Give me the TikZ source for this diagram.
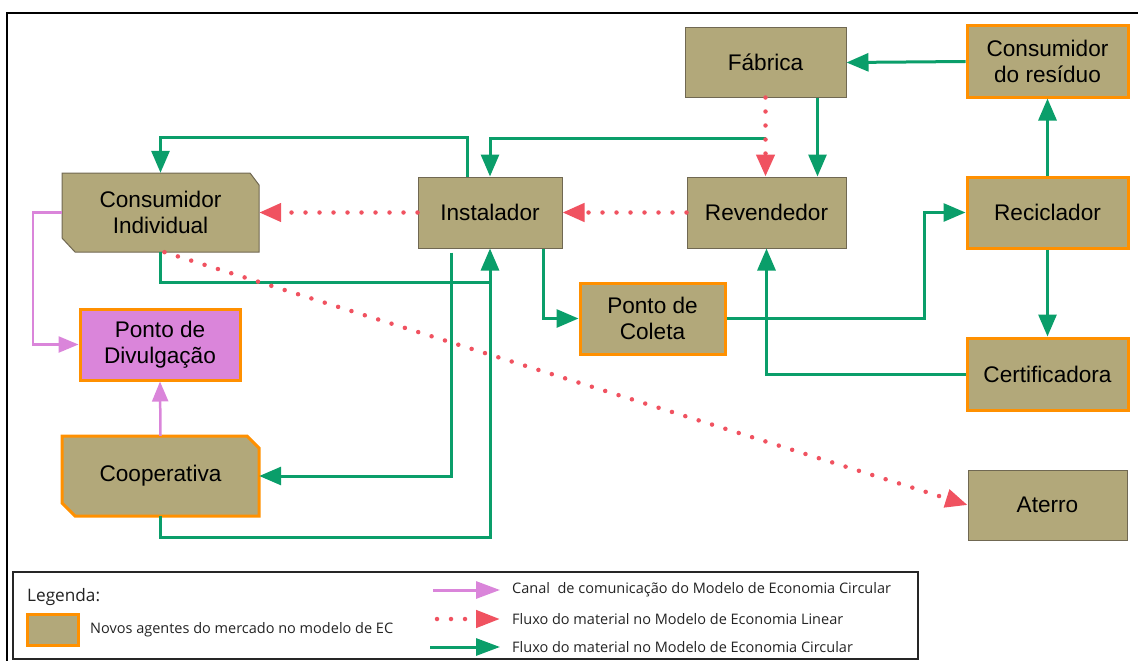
\documentclass[tikz,border=0pt]{standalone}
\usepackage{fontspec}
\setmainfont{Liberation Sans}
\newfontfamily\legendfont{Open Sans}
\usetikzlibrary{arrows.meta}
\definecolor{boxtan}{RGB}{178,168,122}
\definecolor{tanline}{RGB}{112,104,82}
\definecolor{orng}{RGB}{255,144,0}
\definecolor{pnk}{RGB}{218,133,218}
\definecolor{redd}{RGB}{240,82,96}
\definecolor{grn}{RGB}{10,158,106}
\definecolor{legtext}{RGB}{35,35,35}
\begin{document}
\begin{tikzpicture}[x=1pt,y=-1pt,
  agent/.style={draw=tanline, line width=1pt, fill=boxtan, font=\fontsize{22.6}{26.5}\selectfont, align=center, inner sep=0pt},
  newagent/.style={agent, draw=orng, line width=3pt},
  textonly/.style={draw=none, fill=none, font=\fontsize{22.6}{26.5}\selectfont, align=center, inner sep=0pt},
  gline/.style={draw=grn, line width=3pt, -{Triangle[length=22pt,width=18pt]}},
  pline/.style={draw=pnk, line width=2.5pt, -{Triangle[length=20pt,width=16pt]}},
  rline/.style={draw=redd, line width=4.5pt, line cap=round, dash pattern=on 0pt off 14pt, -{Triangle[length=22pt,width=18pt]}},
  legtxt/.style={font=\legendfont\fontsize{14.5}{17}\selectfont, text=legtext, anchor=west, inner sep=0pt}
]
\useasboundingbox (0,0) rectangle (1138,661);
% outer frame
\draw[line width=2.5pt] (7,661) -- (7,13) -- (1138,13);

% cut-corner shapes
\filldraw[fill=boxtan, draw=tanline, line width=1pt] (62,173) -- (250,173) -- (259,185) -- (259,252) -- (75,252) -- (62,238) -- cycle;
\filldraw[fill=boxtan, draw=orng, line width=3pt] (62,436) -- (247,436) -- (259,448) -- (259,516) -- (75,516) -- (62,503) -- cycle;

% nodes
\node[agent, minimum width=161pt, minimum height=69pt] (fab) at (765.5,62.5) {Fábrica};
\node[newagent, minimum width=161pt, minimum height=71pt] (cdr) at (1047.5,61.5) {Consumidor\\do resíduo};
\node[textonly, minimum width=197pt, minimum height=79pt] (ci) at (160.5,212.5) {Consumidor\\Individual};
\node[agent, minimum width=144pt, minimum height=71pt] (ins) at (490,212.5) {Instalador};
\node[agent, minimum width=159pt, minimum height=71pt] (rev) at (766.5,212.5) {Revendedor};
\node[newagent, minimum width=161pt, minimum height=71pt] (rec) at (1047.5,212.5) {Reciclador};
\node[newagent, minimum width=145pt, minimum height=71pt] (pc) at (652.5,318.5) {Ponto de\\Coleta};
\node[newagent, minimum width=161pt, minimum height=72pt] (cert) at (1047.5,374) {Certificadora};
\node[newagent, fill=pnk, minimum width=160pt, minimum height=71pt] (pd) at (160,344.5) {Ponto de\\Divulgação};
\node[textonly, minimum width=197pt, minimum height=80pt] (coop) at (160.5,476) {Cooperativa};
\node[agent, minimum width=159pt, minimum height=70pt] (at) at (1047.5,505) {Aterro};

% green connectors
\coordinate (gs) at (765.5,138);
\draw[gline] (cdr.west) -- (fab.east);
\draw[gline] ([xshift=52pt]fab.south) -- ([xshift=52pt]fab.south |- rev.north);
\draw[gline] (rec.north) -- (cdr.south);
\draw[gline] (rec.south) -- (cert.north);
\draw[gline] (pc.east) -- ++(198,0) |- (rec.west);
\draw[gline] (cert.west) -| (rev.south);
\draw[gline] ([xshift=53pt]ins.south) |- (pc.west);
\draw[gline] (gs) -| (ins.north);
\draw[gline] ([xshift=-23pt]ins.north) -- ++(0,-39) -| (ci.north);
\draw[gline] (ci.south) -- ++(0,30) -| (ins.south);
\draw[gline] ([xshift=-39pt,yshift=-4pt]ins.south) |- (coop.east);
\draw[gline, -] (coop.south) -- ++(0,21) -| ([yshift=-34pt]ins.south);

% pink connectors
\draw[pline] (ci.west) -- ++(-29,0) |- (pd.west);
\draw[pline] (coop.north) -- (pd.south);

% red dotted connectors
\draw[rline] (fab.south) -- (fab.south |- rev.north);
\draw[rline] (rev.west) -- (ins.east);
\draw[rline] (ins.west) -- (ci.east);
\draw[rline] ([xshift=4pt]ci.south) -- (at.west);

% legend
\draw[draw=black!85, line width=1.2pt] (13,572) rectangle (918,659);
\node[legtxt, font=\legendfont\fontsize{17.2}{20}\selectfont] (lg) at (27,597) {Legenda:};
\node[newagent, minimum width=51pt, minimum height=31pt] (lsw) at (52.5,629.5) {};
\node[legtxt] (lt0) at (90,630) {Novos agentes do mercado no modelo de EC};
\coordinate (la1) at (433,590);
\coordinate (lb1) at (500,590);
\coordinate (la2) at (437,619);
\coordinate (lb2) at (500,619);
\coordinate (la3) at (430,647);
\coordinate (lb3) at (500,647);
\draw[pline, line width=3pt, -{Triangle[length=24pt,width=17pt]}] (la1) -- (lb1);
\draw[rline, -{Triangle[length=24pt,width=17pt]}] (la2) -- (lb2);
\draw[gline, -{Triangle[length=24pt,width=17pt]}] (la3) -- (lb3);
\node[legtxt] (lt1) at (512,590) {Canal\ \ de comunicação do Modelo de Economia Circular};
\node[legtxt] (lt2) at (512,619) {Fluxo do material no Modelo de Economia Linear};
\node[legtxt] (lt3) at (512,647) {Fluxo do material no Modelo de Economia Circular};
\end{tikzpicture}
\end{document}
